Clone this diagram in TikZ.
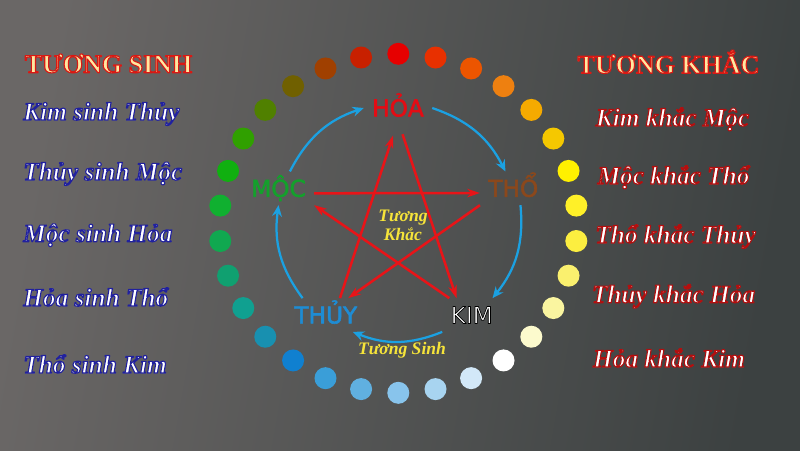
\documentclass[tikz,border=0pt]{standalone}
\usepackage{fontspec}
\setmainfont{Liberation Serif}
\newfontfamily\elementFamily{DejaVu Sans}
\usetikzlibrary{arrows.meta}
\definecolor{bgLeft}{RGB}{106,103,102}
\definecolor{bgRight}{RGB}{60,65,65}
\definecolor{sinhBlue}{RGB}{27,161,226}
\definecolor{khacRed}{RGB}{232,20,24}
\definecolor{hoaRed}{RGB}{228,12,20}
\definecolor{mocGreen}{RGB}{20,160,44}
\definecolor{thoBrown}{RGB}{139,72,28}
\definecolor{thuyBlue}{RGB}{30,140,212}
\definecolor{cycleYellow}{RGB}{246,228,58}
\definecolor{titleCream}{RGB}{255,232,160}
\tikzstyle{board} = [x = 0.025cm, y = -0.025cm]
\tikzstyle{elementLabel} = [font=\elementFamily\fontsize{16.5}{18}\selectfont, text height=12pt, text depth=0pt, inner sep=1pt, outer sep=5pt]
\tikzstyle{listText} = [font=\bfseries\itshape\fontsize{18}{20}\selectfont, text=white, inner sep=0pt]
\tikzstyle{titleText} = [font=\bfseries\fontsize{18.5}{20}\selectfont, text=titleCream, inner sep=0pt]
\tikzstyle{cycleText} = [font=\bfseries\itshape\fontsize{12.5}{13.5}\selectfont, text=cycleYellow, align=center, inner sep=0pt]
\tikzstyle{sinhArrow} = [color=sinhBlue, line width=1.6pt, -{Stealth[length=8pt, width=7pt]}]
\tikzstyle{khacArrow} = [color=khacRed, line width=1.8pt, -{Stealth[length=9pt, width=6pt]}]
% stroke colours for the outlined texts
\newcommand{\blueEdge}{0.13 0.13 0.62}
\newcommand{\redEdge}{0.70 0.06 0.06}
\newcommand{\titleEdge}{0.85 0.10 0.08}
\newcommand{\blackEdge}{0 0 0}
\newcommand{\hoaEdge}{0.894 0.047 0.078}
\newcommand{\mocEdge}{0.078 0.627 0.173}
\newcommand{\thoEdge}{0.545 0.282 0.110}
\newcommand{\thuyEdge}{0.118 0.549 0.831}
\newcommand{\outlined}[3]{\special{pdf:literal direct 1 j #1 RG #2 w 2 Tr}#3\special{pdf:literal direct 0 Tr}}
\newcommand{\ringDot}[1]{\fill [dotFill] ({398.3 + 179 * cos(90 - 12 * #1)}, {223.3 - 169.5 * sin(90 - 12 * #1)}) circle (11);}

\begin{document}
\begin{tikzpicture}[board]
  \useasboundingbox (0,0) rectangle (800,450);
  \shade [left color=bgLeft, right color=bgRight, shading angle=80] (0,0) rectangle (800,450);

  % ring of dots
  \foreach \r/\g/\b [count=\i from 0] in {230/0/0, 232/48/0, 236/85/0, 238/128/16, 245/170/0, 245/200/0,
      255/240/0, 255/240/40, 252/238/64, 250/240/110, 250/245/160, 252/250/205, 255/255/255,
      210/232/248, 168/212/240, 136/196/236, 96/176/224, 58/158/216, 16/128/208, 24/144/176,
      16/160/144, 16/160/112, 16/168/80, 16/176/48, 16/176/16, 48/160/0, 80/128/0, 112/96/0,
      160/64/0, 200/32/0} {
    \definecolor{dotFill}{RGB}{\r,\g,\b}
    \ringDot{\i}
  }

  % five elements
  \node [elementLabel, text=hoaRed] (hoa) at (398,108) {\outlined{\hoaEdge}{0.4}{HỎA}};
  \node [elementLabel, text=mocGreen] (moc) at (278.5,188.3) {\outlined{\mocEdge}{0.4}{MỘC}};
  \node [elementLabel, text=thoBrown] (tho) at (513.3,188.3) {\outlined{\thoEdge}{0.4}{THỔ}};
  \node [elementLabel, text=thuyBlue] (thuy) at (325.8,315) {\outlined{\thuyEdge}{0.4}{THỦY}};
  \node [elementLabel, text=white] (kim) at (471.7,315) {\outlined{\blackEdge}{0.5}{KIM}};

  % tuong sinh cycle
  \draw [sinhArrow] (moc.56) to [bend left=22] (hoa.west);
  \draw [sinhArrow] (hoa.east) to [bend left=22] (tho.115);
  \draw [sinhArrow] (tho.-67) to [bend left=22] (kim.39);
  \draw [sinhArrow] (kim.south west) to [bend left=22] (thuy.-32);
  \draw [sinhArrow] (thuy.144) to [bend left=22] (moc.south);

  % tuong khac star
  \draw [khacArrow] (moc.-8) -- (tho.188);
  \draw [khacArrow] (kim.143) -- (moc.south east);
  \draw [khacArrow] (tho.south west) -- (thuy.37);
  \draw [khacArrow, shorten >=8pt] (thuy.50) -- (hoa.-95);
  \draw [khacArrow, shorten <=7pt] (hoa.-85) -- (kim.132);

  \node [cycleText] (khacCenter) at (403,225) {Tương\\Khắc};
  \node [cycleText, anchor=base] (sinhCenter) at (402,354) {Tương Sinh};

  % left column
  \node [titleText, anchor=base] (sinhTitle) at (108.5,72.7) {\outlined{\titleEdge}{0.8}{TƯƠNG SINH}};
  \node [listText, anchor=base west] (kimSinhThuy) at (23,120) {\outlined{\blueEdge}{0.8}{Kim sinh Thủy}};
  \node [listText, anchor=base west] (thuySinhMoc) at (23,180) {\outlined{\blueEdge}{0.8}{Thủy sinh Mộc}};
  \node [listText, anchor=base west] (mocSinhHoa) at (23,241.7) {\outlined{\blueEdge}{0.8}{Mộc sinh Hỏa}};
  \node [listText, anchor=base west] (hoaSinhTho) at (23,306) {\outlined{\blueEdge}{0.8}{Hỏa sinh Thổ}};
  \node [listText, anchor=base west] (thoSinhKim) at (23,373) {\outlined{\blueEdge}{0.8}{Thổ sinh Kim}};

  % right column
  \node [titleText, anchor=base] (khacTitle) at (668.5,73.3) {\outlined{\titleEdge}{0.8}{TƯƠNG KHẮC}};
  \node [listText, anchor=base] (kimKhacMoc) at (672.5,126) {\outlined{\redEdge}{0.8}{Kim khắc Mộc}};
  \node [listText, anchor=base] (mocKhacTho) at (673.5,184) {\outlined{\redEdge}{0.8}{Mộc khắc Thổ}};
  \node [listText, anchor=base] (thoKhacThuy) at (675.5,243) {\outlined{\redEdge}{0.8}{Thổ khắc Thủy}};
  \node [listText, anchor=base] (thuyKhacHoa) at (673.5,302.7) {\outlined{\redEdge}{0.8}{Thủy khắc Hỏa}};
  \node [listText, anchor=base] (hoaKhacKim) at (669,367) {\outlined{\redEdge}{0.8}{Hỏa khắc Kim}};
\end{tikzpicture}
\end{document}
